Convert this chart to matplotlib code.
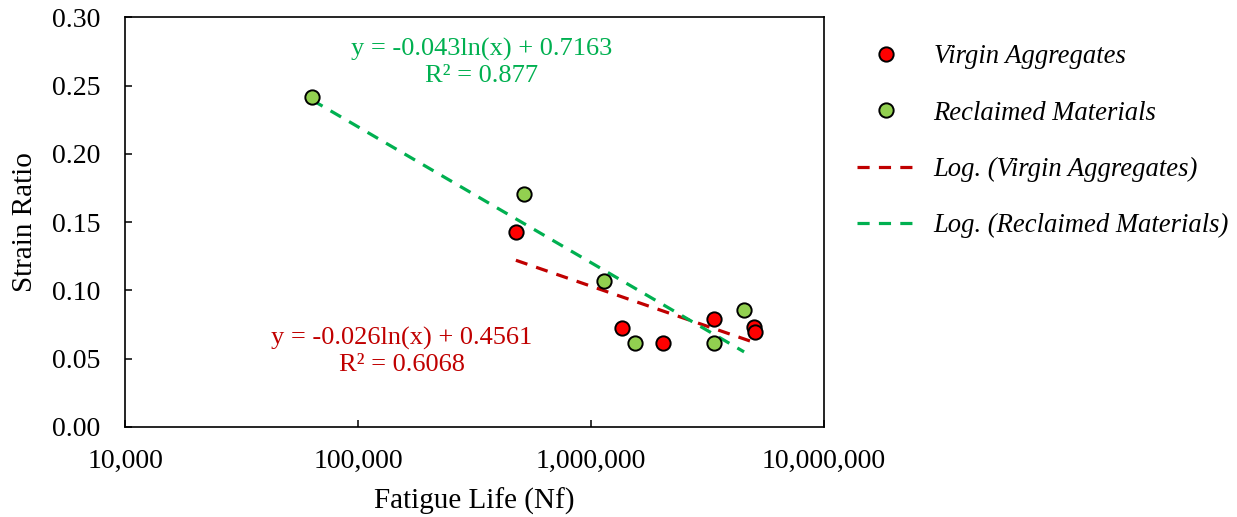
import numpy as np
import matplotlib
matplotlib.use("Agg")
import matplotlib.pyplot as plt
from matplotlib.ticker import FixedLocator, FuncFormatter, NullLocator

plt.rcParams['font.family'] = ['Liberation Serif', 'DejaVu Serif']

# Fatigue test results
virgin_nf = [476000, 1358000, 2037000, 3373000, 5010000, 5050000]
virgin_strain = [0.1427, 0.0724, 0.0615, 0.0790, 0.0732, 0.0695]
reclaimed_nf = [63500, 515000, 1138000, 1545000, 3373000, 4540000]
reclaimed_strain = [0.2415, 0.1710, 0.1068, 0.0615, 0.0615, 0.0856]

virgin_label = "Virgin Aggregates"
reclaimed_label = "Reclaimed Materials"
virgin_eq = "y = -0.026ln(x) + 0.4561\nR² = 0.6068"
reclaimed_eq = "y = -0.043ln(x) + 0.7163\nR² = 0.877"

x_ticks = [1e4, 1e5, 1e6, 1e7]
y_ticks = [0.00, 0.05, 0.10, 0.15, 0.20, 0.25, 0.30]

c_virgin = "#FF0000"
c_reclaimed = "#92D050"
c_virgin_trend = "#C00000"
c_reclaimed_trend = "#00B050"


def log_fit(x, y):
    lx = np.log(np.asarray(x, dtype=float))
    slope, intercept = np.polyfit(lx, np.asarray(y, dtype=float), 1)
    xs = np.geomspace(min(x), max(x), 100)
    return xs, slope * np.log(xs) + intercept


fig = plt.figure(figsize=(12.37, 5.17), dpi=100)
ax = fig.add_axes([0.1011, 0.1741, 0.5650, 0.7921])

ax.set_xscale("log")
ax.set_xlim(1e4, 1e7)
ax.set_ylim(0, 0.30)

mk = dict(marker="o", linestyle="none", markersize=10.3, markeredgecolor="black",
          markeredgewidth=1.4, zorder=3)
h1, = ax.plot(virgin_nf, virgin_strain, markerfacecolor=c_virgin, label=virgin_label, **mk)
h2, = ax.plot(reclaimed_nf, reclaimed_strain, markerfacecolor=c_reclaimed, label=reclaimed_label, **mk)

dash = (0, (3.8, 2.9))
xv, yv = log_fit(virgin_nf, virgin_strain)
xr, yr = log_fit(reclaimed_nf, reclaimed_strain)
h3, = ax.plot(xv, yv, color=c_virgin_trend, linestyle=dash, linewidth=2.3,
              label=f"Log. ({virgin_label})", zorder=2)
h4, = ax.plot(xr, yr, color=c_reclaimed_trend, linestyle=dash, linewidth=2.3,
              label=f"Log. ({reclaimed_label})", zorder=2)

ax.text(3.4e5, 0.2670, reclaimed_eq, color=c_reclaimed_trend, fontsize=19,
        ha="center", va="center", linespacing=1.25)
ax.text(1.545e5, 0.0556, virgin_eq, color=c_virgin_trend, fontsize=19,
        ha="center", va="center", linespacing=1.25)

ax.xaxis.set_major_locator(FixedLocator(x_ticks))
ax.xaxis.set_minor_locator(NullLocator())
ax.xaxis.set_major_formatter(FuncFormatter(lambda v, p: f"{int(round(v)):,}"))
ax.yaxis.set_major_locator(FixedLocator(y_ticks))
ax.yaxis.set_major_formatter(FuncFormatter(lambda v, p: f"{v:.2f}"))

ax.tick_params(axis="both", direction="in", length=5, width=1.1, labelsize=20)
ax.tick_params(axis="x", pad=16)
ax.tick_params(axis="y", pad=18)
for s in ax.spines.values():
    s.set_linewidth(1.2)

ax.set_xlabel("Fatigue Life (Nf)", fontsize=21, labelpad=10)
ax.set_ylabel("Strain Ratio", fontsize=21, labelpad=10)

fig.legend(handles=[h1, h2, h3, h4], loc="upper left", bbox_to_anchor=(0.6928, 0.914),
           frameon=False, prop={"style": "italic", "size": 19.2}, handlelength=2.2,
           handletextpad=0.67, labelspacing=1.17, borderpad=0, borderaxespad=0,
           markerscale=1.0)

fig.savefig("out.png", dpi=100)
